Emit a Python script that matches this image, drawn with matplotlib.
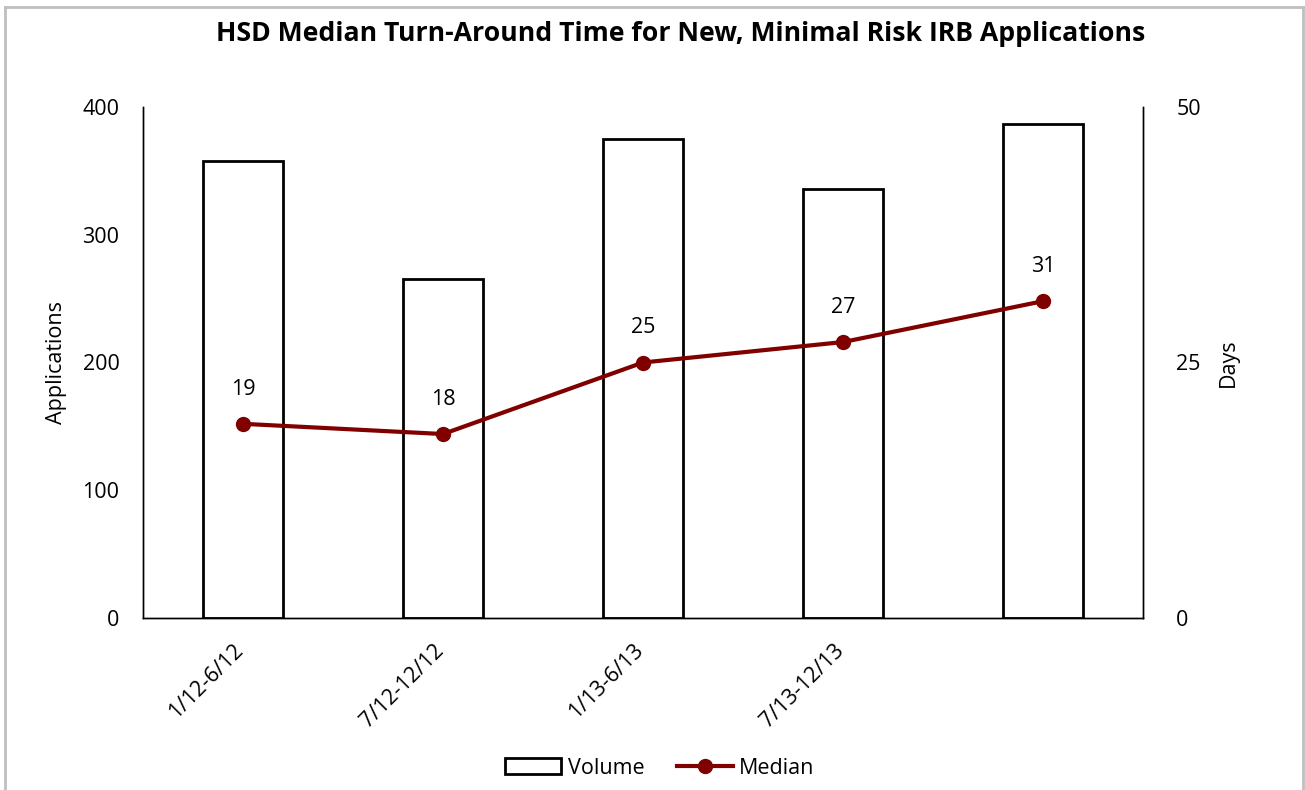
import matplotlib
matplotlib.use("Agg")
import matplotlib.pyplot as plt
from matplotlib.lines import Line2D
from matplotlib.patches import Patch
import matplotlib.transforms as mtransforms

plt.rcParams['font.family'] = ['Open Sans', 'DejaVu Sans']

categories = ["1/12-6/12", "7/12-12/12", "1/13-6/13", "7/13-12/13", ""]
volume = [358, 265, 375, 336, 387]
median = [19, 18, 25, 27, 31]
left_ticks = [0, 100, 200, 300, 400]
right_ticks = [0, 25, 50]

FS = 15.5
W, H = 1305, 790
fig = plt.figure(figsize=(W / 100, H / 100), dpi=100)
ax = fig.add_axes([143 / W, 1 - 618 / H, 1000 / W, 511 / H])
ax2 = ax.twinx()

x = list(range(len(categories)))
ax.bar(x, volume, width=0.4, facecolor="white", edgecolor="black", linewidth=2, zorder=2)
ax.set_xlim(-0.5, len(categories) - 0.5)
ax.set_ylim(0, 400)
ax.set_yticks(left_ticks)
ax.set_xticks(x)
ax.set_xticklabels([])
ax.tick_params(axis="both", length=0, labelsize=FS)
ax.tick_params(axis="y", pad=17)

offset = mtransforms.ScaledTranslation(-10 / 100, -22 / 100, fig.dpi_scale_trans)
for xi, lab in zip(x, categories):
    ax.text(xi, 0, lab, rotation=45, ha="right", va="top", rotation_mode="anchor",
            fontsize=FS, transform=ax.get_xaxis_transform() + offset)

ax.spines["top"].set_visible(False)
ax2.spines["top"].set_visible(False)
for a in (ax, ax2):
    for s in ("left", "right", "bottom"):
        a.spines[s].set_linewidth(1)

ax2.plot(x, median, color="#800000", linewidth=3, marker="o", markersize=10, zorder=3)
ax2.set_ylim(0, 50)
ax2.set_yticks(right_ticks)
ax2.tick_params(axis="y", length=0, labelsize=FS, pad=24)
for xi, m in zip(x, median):
    ax2.annotate(str(m), (xi, m), xytext=(0, 25), textcoords="offset points",
                 ha="center", va="center", fontsize=FS)

ax.set_ylabel("Applications", fontsize=FS, labelpad=11)
ax2.set_ylabel("Days", fontsize=FS, rotation=90, labelpad=12)

fig.text(681 / W, 1 - 34 / H, "HSD Median Turn-Around Time for New, Minimal Risk IRB Applications",
         ha="center", va="center", fontsize=19.2, fontweight="bold")

handles = [Patch(facecolor="white", edgecolor="black", linewidth=2, label="Volume"),
           Line2D([0], [0], color="#800000", linewidth=3, marker="o", markersize=10, label="Median")]
fig.legend(handles=handles, loc="center", bbox_to_anchor=(660 / W, 1 - 768 / H), ncol=2,
           frameon=False, fontsize=FS, handlelength=2.6, handleheight=0.8,
           columnspacing=1.5, handletextpad=0.3)

# chart border
border_kw = dict(color="#BFBFBF", linewidth=2, transform=fig.transFigure)
fig.add_artist(Line2D([5 / W, 5 / W], [0, 1 - 7 / H], **border_kw))
fig.add_artist(Line2D([5 / W, 1303 / W], [1 - 7 / H, 1 - 7 / H], **border_kw))
fig.add_artist(Line2D([1303 / W, 1303 / W], [0, 1 - 7 / H], **border_kw))

fig.savefig("out.png", dpi=100)
